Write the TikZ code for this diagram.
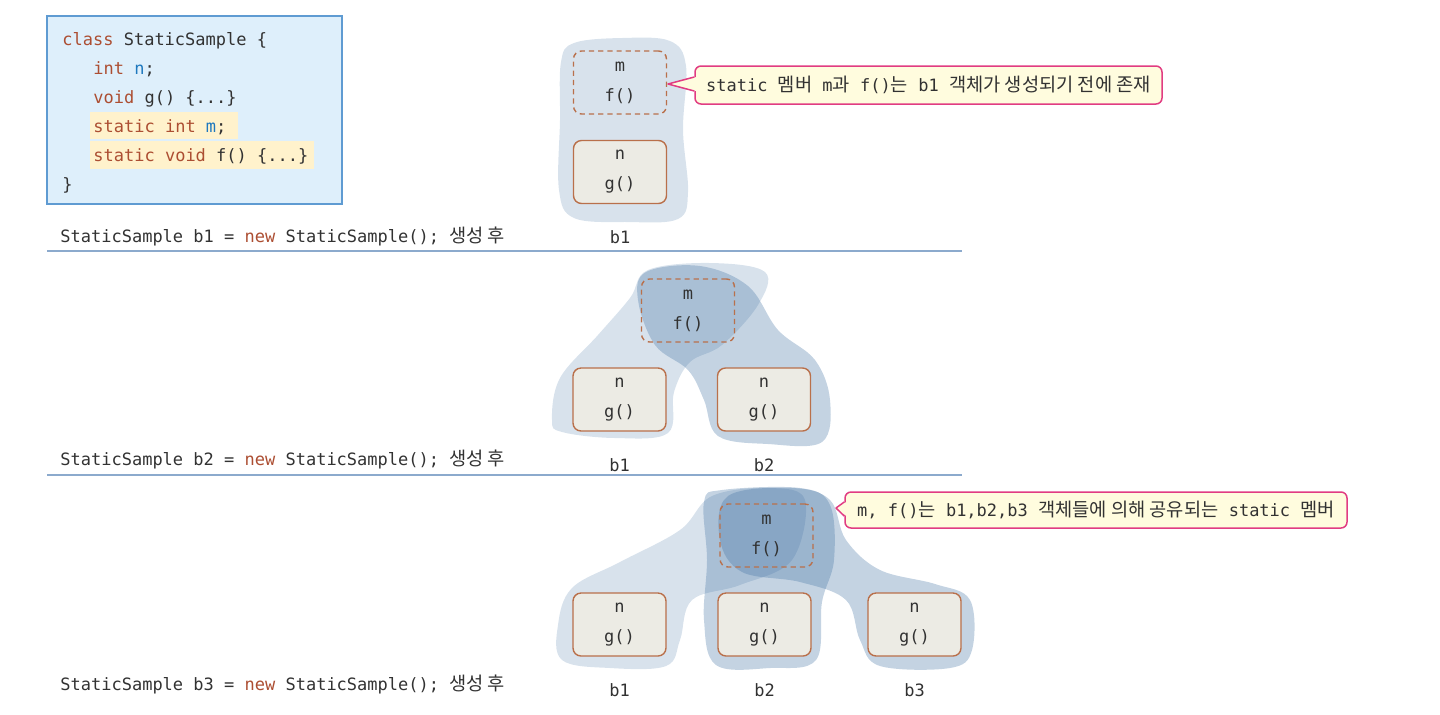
\documentclass[tikz,border=0pt]{standalone}
\usepackage{fontspec}
\setmonofont{DejaVu Sans Mono}
\newfontfamily\kr[Scale=1.1]{Noto Sans CJK KR}
\usepackage{xcolor}
\usetikzlibrary{positioning,calc}

\definecolor{codefill}{RGB}{222,239,251}
\definecolor{codeline}{RGB}{95,155,210}
\definecolor{hlfill}{RGB}{255,242,204}
\definecolor{kwc}{RGB}{172,78,50}
\definecolor{idc}{RGB}{30,120,190}
\definecolor{txt}{RGB}{50,50,50}
\definecolor{boxline}{RGB}{185,112,75}
\definecolor{boxfill}{RGB}{236,235,228}
\definecolor{blobc}{RGB}{60,110,160}
\definecolor{sepc}{RGB}{140,170,205}
\definecolor{callfill}{RGB}{255,252,222}
\definecolor{callline}{RGB}{225,60,130}

\newcommand{\kw}[1]{\textcolor{kwc}{#1}}
\newcommand{\idn}[1]{\textcolor{idc}{#1}}

\tikzset{
  codetext/.style={anchor=base west,inner sep=0pt,text=txt,font=\ttfamily\fontsize{8.5}{14.5}\selectfont},
  membox/.style={draw=boxline,fill=boxfill,rounded corners=4pt,line width=0.7pt,
    minimum width=46.5pt,minimum height=31.5pt,align=center,inner sep=0pt,text=txt,
    font=\ttfamily\fontsize{8.5}{15}\selectfont},
  statbox/.style={membox,fill=none,dash pattern=on 2.6pt off 2pt},
  objname/.style={inner sep=0pt,text=txt,font=\ttfamily\fontsize{8.5}{14.5}\selectfont},
  blobA/.style={fill=blobc,fill opacity=0.2},
  blobB/.style={fill=blobc,fill opacity=0.3},
  sepline/.style={draw=sepc,line width=0.75pt},
  callout/.style={draw=callline,fill=callfill,line width=0.75pt,rounded corners=3pt,
    inner sep=0pt,text=txt,font=\ttfamily\fontsize{8.5}{14.5}\selectfont},
}

\begin{document}
\begin{tikzpicture}[x=0.5pt,y=-0.5pt]
  \useasboundingbox (0,0) rectangle (1440,714);

  \draw[codeline,fill=codefill,line width=0.75pt] (47,16) rectangle (342,204);
  \fill[hlfill] (90,112) rectangle (238,139);
  \fill[hlfill] (90,141) rectangle (314,169);
  \node[codetext] (c1) at (62,45) {\kw{class} StaticSample \{};
  \node[codetext] (c2) at (93,74) {\kw{int} \idn{n};};
  \node[codetext] (c3) at (93,103) {\kw{void} g() \{...\}};
  \node[codetext] (c4) at (93,132) {\kw{static int} \idn{m};};
  \node[codetext] (c5) at (93,161) {\kw{static void} f() \{...\}};
  \node[codetext] (c6) at (62,190) {\}};

  \node[codetext] (lab1) at (60,242) {StaticSample b1 = \kw{new} StaticSample(); {\kr 생성 후}};
  \node[codetext] (lab2) at (60,465) {StaticSample b2 = \kw{new} StaticSample(); {\kr 생성 후}};
  \node[codetext] (lab3) at (60,690) {StaticSample b3 = \kw{new} StaticSample(); {\kr 생성 후}};
  \draw[sepline] (47,251) -- (962,251);
  \draw[sepline] (47,475) -- (962,475);

  % after b1
  \fill[blobA] plot[smooth cycle,tension=0.6] coordinates {(561,62) (574,43) (622,38) (670,41) (686,66) (683,130) (688,192) (678,219) (628,222) (574,218) (559,190) (560,120)};
  \node[statbox] (s1m) at (620,82.5) {m\\f()};
  \node[membox] (s1b1) at (620,172) {n\\g()};
  \node[objname,below=13pt of s1b1] (n1b1) {b1};
  \node[callout,minimum width=233.5pt,minimum height=19pt] (call1) at (928.5,85)
    {static {\kr 멤버} m{\kr 과} f(){\kr 는} b1 {\kr 객체가 생성되기 전에 존재}};
  \coordinate (tip1) at (668,84);
  \fill[callfill] ($(call1.west)+(2,-8)$) -- (tip1) -- ($(call1.west)+(2,6)$) -- cycle;
  \draw[callline,line width=0.75pt,line join=round] ($(call1.west)+(0,-8)$) -- (tip1) -- ($(call1.west)+(0,6)$);

  % after b2
  \fill[blobA] plot[smooth cycle,tension=0.6] coordinates {(552,420) (560,378) (598,335) (630,298) (648,270) (710,263) (765,272) (758,305) (722,345) (690,362) (674,392) (668,433) (615,438) (562,432)};
  \fill[blobB] plot[smooth cycle,tension=0.6] coordinates {(638,300) (646,272) (700,266) (748,286) (778,330) (815,360) (830,400) (822,442) (768,444) (718,436) (704,400) (688,370) (655,345)};
  \node[statbox] (s2m) at (688,310.5) {m\\f()};
  \node[membox] (s2b1) at (619.5,399.5) {n\\g()};
  \node[membox] (s2b2) at (764,399.5) {n\\g()};
  \node[objname,below=13pt of s2b1] (n2b1) {b1};
  \node[objname,below=13pt of s2b2] (n2b2) {b2};

  % after b3
  \fill[blobA] plot[smooth cycle,tension=0.6] coordinates {(558,625) (572,588) (620,562) (680,530) (712,496) (770,488) (805,500) (792,560) (740,585) (692,600) (680,640) (666,666) (610,668) (562,660)};
  \fill[blobB] plot[smooth cycle,tension=0.6] coordinates {(704,502) (722,490) (800,488) (830,505) (834,560) (822,602) (816,660) (770,668) (716,665) (704,620) (707,560)};
  \fill[blobB] plot[smooth cycle,tension=0.6] coordinates {(728,496) (792,488) (830,500) (846,540) (880,570) (935,584) (970,600) (972,650) (950,668) (880,666) (860,640) (846,600) (800,582) (742,572) (720,540)};
  \node[statbox] (s3m) at (766.5,535.5) {m\\f()};
  \node[membox] (s3b1) at (619.5,624.5) {n\\g()};
  \node[membox] (s3b2) at (764.5,624.5) {n\\g()};
  \node[membox] (s3b3) at (914.5,624.5) {n\\g()};
  \node[objname,below=13pt of s3b1] (n3b1) {b1};
  \node[objname,below=13pt of s3b2] (n3b2) {b2};
  \node[objname,below=13pt of s3b3] (n3b3) {b3};
  \node[callout,minimum width=251pt,minimum height=18pt] (call2) at (1096,510)
    {m, f(){\kr 는} b1,b2,b3 {\kr 객체들에 의해 공유되는} static {\kr 멤버}};
  \coordinate (tip2) at (836,508);
  \fill[callfill] ($(call2.west)+(2,-8)$) -- (tip2) -- ($(call2.west)+(2,6)$) -- cycle;
  \draw[callline,line width=0.75pt,line join=round] ($(call2.west)+(0,-8)$) -- (tip2) -- ($(call2.west)+(0,6)$);
\end{tikzpicture}
\end{document}
